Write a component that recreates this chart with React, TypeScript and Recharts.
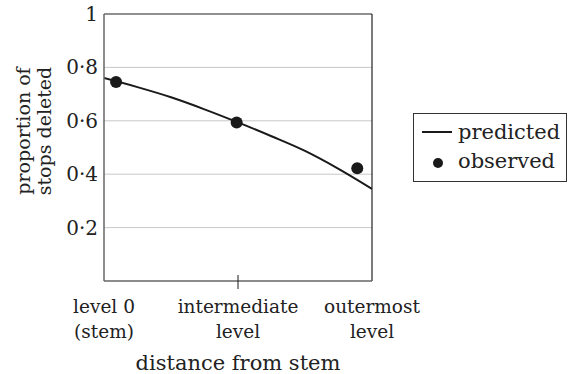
import React from 'react';
import { ComposedChart, Line, Scatter, XAxis, YAxis, ReferenceLine, Legend } from 'recharts';

const predictedX = [0, 0.25, 0.5, 0.75, 1, 1.25, 1.5, 1.75, 2];
const predictedY = [0.76, 0.726, 0.688, 0.643, 0.594, 0.542, 0.487, 0.42, 0.345];
const observedX = [0.09, 0.99, 1.89];
const observedY = [0.745, 0.594, 0.422];
const xTickValues = [0, 1, 2];
const xTickLines = [
  ['level 0', '(stem)'],
  ['intermediate', 'level'],
  ['outermost', 'level'],
];
const yTickValues = [0.2, 0.4, 0.6, 0.8, 1];
const gridValues = [0.2, 0.4, 0.6, 0.8];
const yLabelLines = ['proportion of', 'stops deleted'];
const xLabel = 'distance from stem';
const legendNames = ['predicted', 'observed'];

const predicted = predictedX.map((x, i) => ({ x, y: predictedY[i] }));
const observed = observedX.map((x, i) => ({ x, y: observedY[i] }));

const FONT = '"DejaVu Serif", serif';
const INK = '#1a1a1a';

const XTick = (props: any) => {
  const { x, y, payload } = props;
  const idx = xTickValues.indexOf(payload.value);
  const lines = xTickLines[idx] || ['', ''];
  const axisY = y - 0;
  return (
    <g>
      {payload.value === 1 && (
        <line x1={x} x2={x} y1={axisY} y2={axisY - 14} stroke={INK} strokeWidth={1} />
      )}
      <text x={x} y={axisY + 24} textAnchor="middle" fontFamily={FONT} fontSize={18.5} fill="#222">
        {lines[0]}
      </text>
      <text x={x} y={axisY + 49} textAnchor="middle" fontFamily={FONT} fontSize={18.5} fill="#222">
        {lines[1]}
      </text>
    </g>
  );
};

const YTick = (props: any) => {
  const { x, y, payload } = props;
  const label = payload.value === 1 ? '1' : String(payload.value).replace('.', '·');
  return (
    <text x={x + 2} y={y + 7} textAnchor="end" fontFamily={FONT} fontSize={20} fill="#222">
      {label}
    </text>
  );
};

const YLabel = () => (
  <g>
    <text
      transform="translate(23,131) rotate(-90)"
      textAnchor="middle"
      dominantBaseline="central"
      fontFamily={FONT}
      fontSize={19}
      fill="#222"
    >
      {yLabelLines[0]}
    </text>
    <text
      transform="translate(44,131) rotate(-90)"
      textAnchor="middle"
      dominantBaseline="central"
      fontFamily={FONT}
      fontSize={19}
      fill="#222"
    >
      {yLabelLines[1]}
    </text>
  </g>
);

const XLabel = (props: any) => {
  const vb = props.viewBox || { x: 104, y: 281, width: 268, height: 93 };
  return (
    <text
      x={vb.x + vb.width / 2}
      y={vb.y + 89}
      textAnchor="middle"
      fontFamily={FONT}
      fontSize={21}
      fill="#222"
    >
      {xLabel}
    </text>
  );
};

const LegendBox = () => (
  <div style={{ width: 154, height: 69, border: '1px solid #333', boxSizing: 'border-box', background: '#fff' }}>
    <svg width={152} height={67} style={{ display: 'block' }}>
      <line x1={8} x2={38} y1={18} y2={18} stroke={INK} strokeWidth={2} />
      <text x={44} y={25} fontFamily={FONT} fontSize={21} fill="#222">
        {legendNames[0]}
      </text>
      <circle cx={24} cy={49} r={5} fill={INK} />
      <text x={44} y={54} fontFamily={FONT} fontSize={21} fill="#222">
        {legendNames[1]}
      </text>
    </svg>
  </div>
);

export default function App() {
  return (
    <div style={{ position: 'absolute', left: 0, top: 0, width: 568, height: 374, background: '#fff' }}>
      <ComposedChart width={568} height={374} margin={{ top: 14, right: 196, bottom: 0, left: 0 }}>
        <XAxis
          type="number"
          dataKey="x"
          domain={[0, 2]}
          ticks={xTickValues}
          tick={<XTick />}
          tickLine={false}
          axisLine={{ stroke: '#666', strokeWidth: 1.5 }}
          height={93}
          allowDataOverflow
          label={<XLabel />}
        />
        <YAxis
          type="number"
          dataKey="y"
          domain={[0, 1]}
          ticks={yTickValues}
          tick={<YTick />}
          tickLine={false}
          axisLine={{ stroke: '#666', strokeWidth: 1.5 }}
          width={104}
          label={<YLabel />}
        />
        {gridValues.map((v) => (
          <ReferenceLine key={v} y={v} stroke="#c8c8c8" strokeWidth={1} />
        ))}
        <ReferenceLine y={1} stroke="#222" strokeWidth={1.2} />
        <ReferenceLine x={2} stroke="#222" strokeWidth={1.2} />
        <Legend
          layout="horizontal"
          verticalAlign="middle"
          align="center"
          content={<LegendBox />}
          wrapperStyle={{ left: 413, top: 113, width: 154, height: 69, right: 'auto', bottom: 'auto' }}
        />
        <Line
          data={predicted}
          dataKey="y"
          type="monotone"
          stroke={INK}
          strokeWidth={2}
          dot={false}
          activeDot={false}
          isAnimationActive={false}
          legendType="line"
          name={legendNames[0]}
        />
        <Scatter
          data={observed}
          dataKey="y"
          fill={INK}
          shape={(p: any) => <circle cx={p.cx} cy={p.cy} r={6} fill={INK} />}
          isAnimationActive={false}
          name={legendNames[1]}
        />
      </ComposedChart>
    </div>
  );
}
